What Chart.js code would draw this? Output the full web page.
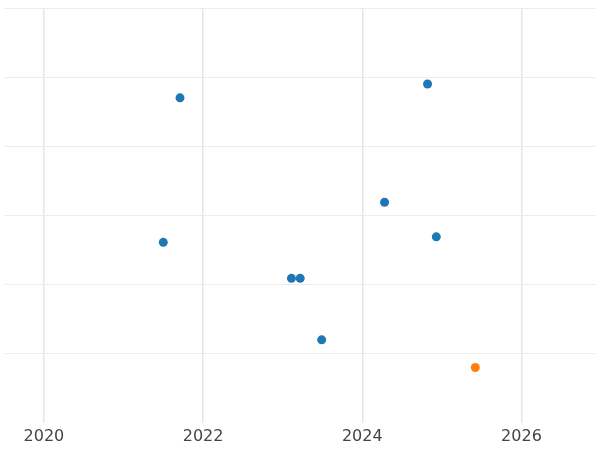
<!DOCTYPE html>
<html lang="en">
<head>
  <meta charset="UTF-8">
  <title>Scatter</title>
  <script src="https://cdn.jsdelivr.net/npm/chart.js"></script>
  <style>
    html, body { margin: 0; padding: 0; background: #fff; }
    #wrap { width: 600px; height: 450px; }
  </style>
</head>
<body>
  <div id="wrap"><canvas id="chart"></canvas></div>
  <script>
    const blueX = [2021.71, 2024.82, 2024.28, 2021.50, 2024.93, 2023.11, 2023.22, 2023.49];
    const blueY = [4.70, 4.90, 3.19, 2.61, 2.69, 2.09, 2.09, 1.20];
    const orangeX = [2025.42];
    const orangeY = [0.80];
    const xTicks = [2020, 2022, 2024, 2026];

    const pts = (xs, ys) => xs.map((x, i) => ({ x: x, y: ys[i] }));

    new Chart(document.getElementById("chart"), {
      type: 'scatter',
      data: {
        datasets: [
          { data: pts(blueX, blueY), backgroundColor: '#1f77b4', borderWidth: 0, pointRadius: 4.5 },
          { data: pts(orangeX, orangeY), backgroundColor: '#ff7f0e', borderWidth: 0, pointRadius: 4.5 }
        ]
      },
      options: {
        responsive: true,
        maintainAspectRatio: false,
        animation: false,
        layout: { padding: { top: 8, bottom: 0, left: 0, right: 0 } },
        plugins: { legend: { display: false }, tooltip: { enabled: false } },
        scales: {
          x: {
            type: 'linear',
            min: 2019.505,
            max: 2026.93,
            afterBuildTicks: (axis) => { axis.ticks = xTicks.map(v => ({ value: v })); },
            ticks: { color: '#444', padding: 4, font: { family: 'DejaVu Sans', size: 16 }, callback: v => String(v) },
            grid: { color: '#e6e6e6', lineWidth: 1.5, drawTicks: false },
            border: { display: false }
          },
          y: {
            min: 0,
            max: 6,
            afterFit: (axis) => { axis.width = 0; },
            ticks: { display: false, stepSize: 1, padding: 0 },
            grid: { color: (c) => c.tick.value === 0 ? 'rgba(0,0,0,0)' : '#ececec', lineWidth: 1, drawTicks: false },
            border: { display: false }
          }
        }
      }
    });
  </script>
</body>
</html>
